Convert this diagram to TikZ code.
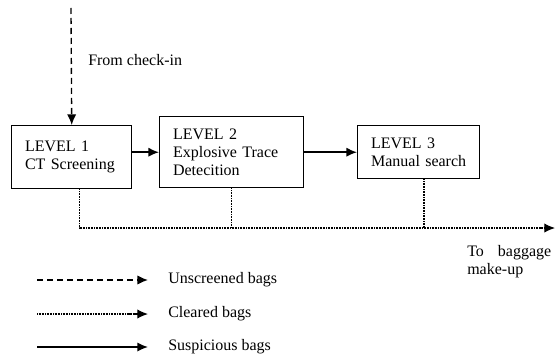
\documentclass[tikz,border=0pt]{standalone}
\usepackage{fontspec}
\setmainfont{Liberation Serif}
\usetikzlibrary{arrows.meta}
\begin{document}
\begin{tikzpicture}[x=0.75pt,y=-0.75pt,
  font=\fontsize{12}{13.8}\selectfont,
  box/.style={draw,line width=1.1pt,rectangle,anchor=north west,align=left,inner xsep=10pt,inner ysep=0pt},
  tip/.style={-{Latex[length=8pt,width=7pt]}},
  solidline/.style={line width=1.2pt,tip},
  dashline/.style={line width=1pt,dash pattern=on 4.5pt off 3pt,tip},
  dotline/.style={line width=0.9pt,dash pattern=on 0.6pt off 0.6pt},
  lbl/.style={anchor=west,inner sep=0pt}]
\useasboundingbox (0,0) rectangle (555,356);
% boxes
\node[box,text width=70pt,minimum height=47.25pt] (b1) at (11,125) {LEVEL 1\\CT Screening};
\node[box,text width=88pt,minimum height=53.25pt] (b2) at (159,116) {LEVEL 2\\Explosive Trace\\Detecition};
\node[box,text width=71.5pt,minimum height=39.75pt] (b3) at (357,125) {LEVEL 3\\Manual search};
% incoming
\coordinate (top) at (71,8);
\draw[dashline] (top) -- (b1.north);
\node[lbl] (from) at (88,60) {From check-in};
% suspicious flow
\draw[solidline] (b2.west -| b1.east) -- (b2.west);
\draw[solidline] (b2.east) -- (b3.west);
% cleared flow
\coordinate (end) at (555,228);
\draw[dotline] ([xshift=6]b1.south) |- ([xshift=-8]end);
\draw[dotline,tip] ([xshift=-12]end) -- (end);
\draw[dotline] (b2.south) -- (b2.south |- end);
\draw[dotline] ([xshift=4]b3.south) -- ([xshift=4]b3.south |- end);
\node[anchor=north west,inner sep=0pt,text width=63pt,align=left] (dest) at (467,245) {To\hfill baggage\\make-up};
% legend
\coordinate (l1a) at (37,280); \coordinate (l1b) at (148,280);
\coordinate (l2a) at (37,314); \coordinate (l2b) at (148,314);
\coordinate (l3a) at (37,347); \coordinate (l3b) at (148,347);
\draw[dashline] (l1a) -- (l1b);
\draw[dotline] (l2a) -- ([xshift=-10]l2b);
\draw[dotline,tip] ([xshift=-14]l2b) -- (l2b);
\draw[solidline] (l3a) -- (l3b);
\node[lbl] (t1) at (168,280) {Unscreened bags};
\node[lbl] (t2) at (168,314) {Cleared bags};
\node[lbl] (t3) at (168,347) {Suspicious bags};
\end{tikzpicture}
\end{document}
